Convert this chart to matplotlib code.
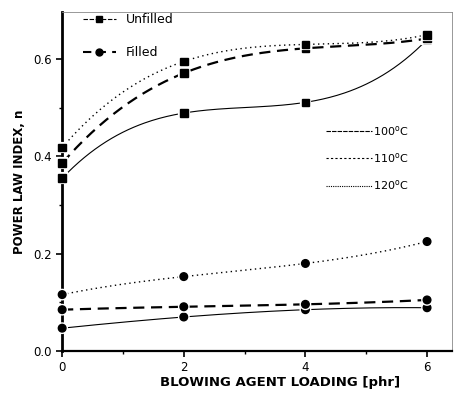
import numpy as np
import matplotlib
import matplotlib.pyplot as plt
import matplotlib.patheffects as pe
from matplotlib.lines import Line2D

matplotlib.use('Agg')

loading = [0, 2, 4, 6]

# unfilled
unf_100 = [0.355, 0.489, 0.511, 0.640]
unf_110 = [0.386, 0.571, 0.622, 0.642]
unf_120 = [0.418, 0.595, 0.630, 0.650]
# filled
fil_100 = [0.047, 0.070, 0.085, 0.089]
fil_110 = [0.085, 0.091, 0.096, 0.105]
fil_120 = [0.116, 0.153, 0.180, 0.225]

temps = ['100$^{\\mathrm{o}}$C', '110$^{\\mathrm{o}}$C', '120$^{\\mathrm{o}}$C']
styles = [('-', 0.8), ((0, (5, 3)), 1.6), ((0, (1, 2.5)), 1.0)]

fig = plt.figure(figsize=(4.57, 3.94), dpi=100)
ax = fig.add_axes([0.136, 0.109, 0.853, 0.861])

xs = np.linspace(0, 6, 200)
halo = [pe.Stroke(linewidth=3, foreground='white'), pe.Normal()]

def draw(y, ls, lw, marker, ms):
    # smooth curve through the points, like the original plotting software
    c = np.polyfit(loading, y, 3)
    ax.plot(xs, np.polyval(c, xs), color='black', ls=ls, lw=lw)
    ax.plot(loading, y, ls='none', marker=marker, ms=ms, color='black',
            path_effects=halo, clip_on=False, zorder=5)

for y, (ls, lw) in zip([unf_100, unf_110, unf_120], styles):
    draw(y, ls, lw, 's', 5.5)
for y, (ls, lw) in zip([fil_100, fil_110, fil_120], styles):
    draw(y, ls, lw, 'o', 5.5)

ax.set_xlim(0, 6.41)
ax.set_ylim(0, 0.697)
ax.set_xticks([0, 2, 4, 6])
ax.set_xticks([1, 3, 5], minor=True)
ax.set_yticks([0.0, 0.2, 0.4, 0.6])
ax.set_yticklabels(['0.0', '0.2', '0.4', '0.6'])
ax.set_yticks([0.1, 0.3, 0.5], minor=True)
ax.tick_params(which='major', direction='out', length=4, width=1.2, labelsize=8.5)
ax.tick_params(which='minor', direction='out', length=2, width=1)

ax.spines['left'].set_linewidth(2)
ax.spines['bottom'].set_linewidth(1.6)
for s in ['top', 'right']:
    ax.spines[s].set_linewidth(0.6)
    ax.spines[s].set_color('#888888')

ax.set_xlabel('BLOWING AGENT LOADING [phr]', fontsize=9.5, fontweight='bold')
ax.xaxis.set_label_coords(0.56, -0.075)
ax.set_ylabel('POWER LAW INDEX, n', fontsize=8.5, fontweight='bold', labelpad=5)

h1 = [Line2D([], [], color='black', lw=0.8, marker='s', ms=5, ls=(0, (4, 1.5))),
      Line2D([], [], color='black', lw=1.5, marker='o', ms=5, ls=(0, (4, 3)))]
leg1 = ax.legend(h1, ['Unfilled', 'Filled'], loc='upper left', frameon=False,
                 fontsize=9, handlelength=2.6, labelspacing=1.6,
                 bbox_to_anchor=(0.025, 1.03))
ax.add_artist(leg1)

h2 = [Line2D([], [], color='black', lw=0.8, ls=(0, (4, 1))),
      Line2D([], [], color='black', lw=0.8, ls=(0, (2, 2))),
      Line2D([], [], color='black', lw=0.8, ls=(0, (1, 1)))]
ax.legend(h2, temps, loc='upper left', frameon=False, fontsize=8,
          handlelength=4.2, handletextpad=0.1, labelspacing=1.2,
          bbox_to_anchor=(0.65, 0.70))

fig.savefig('out.png', dpi=100)
